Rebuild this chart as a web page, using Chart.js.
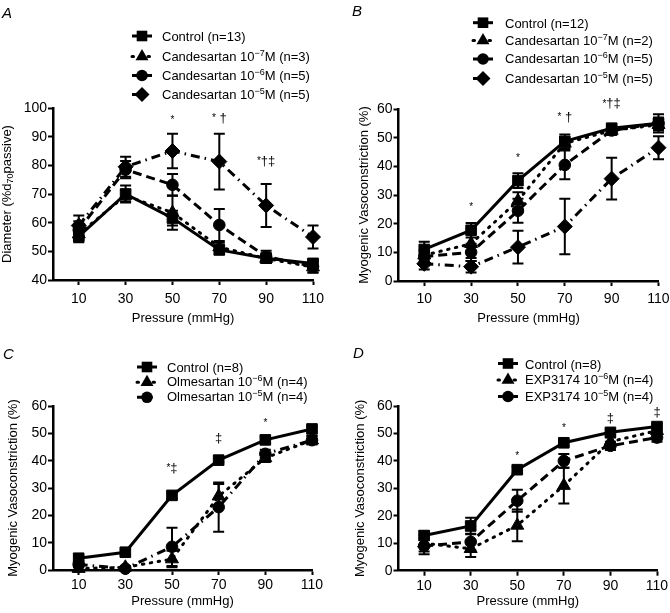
<!DOCTYPE html>
<html>
<head>
<meta charset="utf-8">
<title>Myogenic responses to AT1 receptor blockers</title>
<script src="https://cdn.jsdelivr.net/npm/chart.js@4.4.1/dist/chart.umd.min.js"></script>
<style>
  html, body { margin: 0; padding: 0; background: #fff; }
  #figure { position: relative; width: 670px; height: 613px; overflow: hidden; font-family: Arial, "Liberation Sans", Helvetica, sans-serif; color: #000; }
  #figure canvas { position: absolute; }
  .panel-letter { position: absolute; font-size: 15px; font-style: italic; line-height: 15px; transform: translateY(-50%); }
  .legend-row { position: absolute; font-size: 13px; line-height: 13px; white-space: nowrap; transform: translateY(-50%); }
  .legend-row .sup { position: relative; top: -5px; font-size: 9px; }
</style>
</head>
<body>
<div id="figure">
  <canvas id="chartA" width="335" height="335" style="left:0;top:0"></canvas>
  <canvas id="chartB" width="345" height="335" style="left:335px;top:0"></canvas>
  <canvas id="chartC" width="335" height="278" style="left:0;top:335px"></canvas>
  <canvas id="chartD" width="345" height="278" style="left:335px;top:335px"></canvas>
  <div class="panel-letter" style="left:2px;top:12px">A</div>
  <div class="panel-letter" style="left:352px;top:10px">B</div>
  <div class="panel-letter" style="left:3px;top:353px">C</div>
  <div class="panel-letter" style="left:353px;top:352px">D</div>
</div>
<script>
(function () {
  'use strict';

  // ---- data ----
  const pressure = [10, 30, 50, 70, 90, 110];
  const yTicksDiameter = [40, 50, 60, 70, 80, 90, 100];
  const yTicksMyogenic = [0, 10, 20, 30, 40, 50, 60];

  // A: diameter (% d70 passive)
  const aLabels = ['Control (n=13)', 'Candesartan 10{−7}M (n=3)', 'Candesartan 10{−6}M (n=5)', 'Candesartan 10{−5}M (n=5)'];
  const aControl = [55.2, 70, 61.6, 50.5, 47.6, 45.8];
  const aControlErr = [2, 3, 2.6, 1.5, 1.7, 1.5];
  const aCand7 = [56, 69.5, 63.5, 51.5, 47.5, 44.5];
  const aCand7Err = [2, 2, 6, 1.5, 1.5, 2];
  const aCand6 = [57.5, 78.5, 73.2, 59.2, 48.2, 44.7];
  const aCand6Err = [3, 3, 3.8, 5.6, 2, 2];
  const aCand5 = [59, 79.5, 85, 81.3, 66, 55];
  const aCand5Err = [3.5, 3.5, 6, 9.7, 7.5, 4];
  const aSigText = ['*', '* †', '*†‡'];
  const aSigAt = [50, 70, 90];
  const aSigLevel = [96.5, 96.3, 81.3];

  // B: myogenic vasoconstriction (%)
  const bLabels = ['Control (n=12)', 'Candesartan 10{−7}M (n=2)', 'Candesartan 10{−6}M (n=5)', 'Candesartan 10{−5}M (n=5)'];
  const bControl = [11, 17.7, 35, 48.7, 53.3, 55];
  const bControlErr = [2.7, 2.5, 2.6, 2.4, 1.5, 3.2];
  const bCand7 = [9, 13, 28, 48, 52.5, 54.5];
  const bCand7Err = [2, 5, 3, 2, 1.5, 2];
  const bCand6 = [8.5, 10, 24.5, 40.5, 52.5, 55];
  const bCand6Err = [2, 3, 4.2, 5, 1.5, 2];
  const bCand5 = [6, 5, 11.8, 19, 35.7, 46.5];
  const bCand5Err = [2, 2, 5.7, 9.7, 7.3, 4];
  const bSigText = ['*', '*', '* †', '*†‡'];
  const bSigAt = [30, 50, 70, 90];
  const bSigLevel = [26.5, 43.6, 57.2, 61.8];

  // C: olmesartan
  const cLabels = ['Control (n=8)', 'Olmesartan 10{−6}M (n=4)', 'Olmesartan 10{−5}M (n=4)'];
  const cControl = [4.3, 6.5, 27.3, 40.2, 47.6, 51.6];
  const cControlErr = [1, 1, 1.2, 0.8, 1.2, 1];
  const cOlme6 = [0.5, 1, 4, 27, 41, 47.5];
  const cOlme6Err = [0.5, 0.5, 3, 4.5, 1.5, 1.5];
  const cOlme5 = [2, 0.5, 8.5, 23, 42.5, 47.5];
  const cOlme5Err = [1, 0.5, 7, 9, 1.5, 1.5];
  const cSigText = ['*‡', '‡', '*'];
  const cSigAt = [50, 70, 90];
  const cSigLevel = [37.2, 48.2, 54.3];

  // D: EXP3174
  const dLabels = ['Control (n=8)', 'EXP3174 10{−6}M (n=4)', 'EXP3174 10{−5}M (n=4)'];
  const dControl = [12.8, 16.3, 36.8, 46.6, 50.4, 52.5];
  const dControlErr = [1.5, 3, 1.2, 1, 1, 1];
  const dExp6 = [10, 8, 16.5, 31, 47, 51];
  const dExp6Err = [3, 3, 5.8, 6.5, 1.5, 1.5];
  const dExp5 = [9, 10.5, 25.5, 40, 45.5, 48.5];
  const dExp5Err = [3, 3, 4, 2.5, 1.5, 1.5];
  const dSigText = ['*', '*', '‡', '‡'];
  const dSigAt = [50, 70, 90, 110];
  const dSigLevel = [42.5, 52.7, 55.5, 57.6];

  const yTitleDiameter = ['Diameter (%d', '70', 'passive)'];
  const yTitleMyogenic = 'Myogenic Vasoconstriction (%)';
  const xTitle = 'Pressure (mmHg)';

  // ---- styles ----
  const FONT = 'Arial, "Liberation Sans", Helvetica, sans-serif';
  Chart.defaults.font.family = FONT;
  Chart.defaults.color = '#000';

  const LINES = {
    solid: { dash: [], cap: 'butt' },
    dotted: { dash: [1.5, 6.5], cap: 'round' },
    dashed: { dash: [9, 5], cap: 'butt' },
    dashdot: { dash: [9, 5, 1.5, 5], cap: 'butt' }
  };
  const MARKER_RADIUS = { rect: 7.5, triangle: 7.5, circle: 5.8, rectRot: 7.5 };

  function series(label, values, errors, marker, line) {
    return {
      label: label.replace(/[{}]/g, ''),
      data: pressure.map((p, i) => ({ x: p, y: values[i] })),
      errors: errors,
      borderColor: '#000',
      borderWidth: 3,
      borderDash: LINES[line].dash,
      borderCapStyle: LINES[line].cap,
      pointStyle: marker,
      pointRadius: MARKER_RADIUS[marker],
      pointBackgroundColor: '#000',
      pointBorderColor: '#000',
      pointBorderWidth: 1,
      tension: 0,
      fill: false,
      clip: false
    };
  }

  function drawMarker(ctx, style, r, x, y) {
    ctx.beginPath();
    if (style === 'rect') {
      const s = r * Math.SQRT1_2;
      ctx.rect(x - s, y - s, 2 * s, 2 * s);
    } else if (style === 'rectRot') {
      ctx.moveTo(x, y - r);
      ctx.lineTo(x + r, y);
      ctx.lineTo(x, y + r);
      ctx.lineTo(x - r, y);
      ctx.closePath();
    } else if (style === 'triangle') {
      for (let k = 0; k < 3; k++) {
        const a = k * 2 * Math.PI / 3;
        const px = x + Math.sin(a) * r;
        const py = y - Math.cos(a) * r;
        if (k === 0) ctx.moveTo(px, py); else ctx.lineTo(px, py);
      }
      ctx.closePath();
    } else {
      ctx.arc(x, y, r, 0, Math.PI * 2);
    }
    ctx.fillStyle = '#000';
    ctx.fill();
  }

  // ---- plugins ----
  const errorBars = {
    id: 'errorBars',
    beforeDatasetsDraw(chart) {
      const { ctx, scales: { x, y } } = chart;
      ctx.save();
      ctx.strokeStyle = '#000';
      ctx.lineWidth = 2;
      ctx.setLineDash([]);
      chart.data.datasets.forEach((ds) => {
        (ds.errors || []).forEach((e, i) => {
          const pt = ds.data[i];
          const px = x.getPixelForValue(pt.x);
          const top = y.getPixelForValue(pt.y + e);
          const bot = y.getPixelForValue(pt.y - e);
          ctx.beginPath();
          ctx.moveTo(px, top); ctx.lineTo(px, bot);
          ctx.moveTo(px - 5.5, top); ctx.lineTo(px + 5.5, top);
          ctx.moveTo(px - 5.5, bot); ctx.lineTo(px + 5.5, bot);
          ctx.stroke();
        });
      });
      ctx.restore();
    }
  };

  const legendMarks = {
    id: 'legendMarks',
    afterDraw(chart, args, opts) {
      if (!opts || !opts.ys) return;
      const ctx = chart.ctx;
      chart.data.datasets.forEach((ds, i) => {
        const y0 = opts.ys[i];
        ctx.save();
        ctx.strokeStyle = '#000';
        ctx.lineWidth = 3;
        ctx.setLineDash(ds.borderDash);
        ctx.lineCap = ds.borderCapStyle;
        ctx.beginPath();
        ctx.moveTo(opts.x - 10, y0);
        ctx.lineTo(opts.x + 10, y0);
        ctx.stroke();
        ctx.setLineDash([]);
        drawMarker(ctx, ds.pointStyle, ds.pointRadius, opts.x, y0);
        ctx.restore();
      });
    }
  };

  const sigMarks = {
    id: 'sigMarks',
    afterDraw(chart, args, opts) {
      if (!opts || !opts.text) return;
      const { ctx, scales: { x, y } } = chart;
      ctx.save();
      ctx.fillStyle = '#000';
      ctx.textBaseline = 'middle';
      ctx.textAlign = 'left';
      opts.text.forEach((txt, i) => {
        const cx = x.getPixelForValue(opts.at[i]);
        const cy = y.getPixelForValue(opts.level[i]);
        const starOnly = txt === '*';
        const parts = [...txt].map((ch) => ({
          ch,
          font: ch === '*' ? '10px ' + FONT : '13px ' + FONT,
          dy: ch === '*' ? (starOnly ? 2 : 0) : 0
        }));
        let total = 0;
        parts.forEach((p) => { ctx.font = p.font; p.w = ctx.measureText(p.ch).width; total += p.w; });
        let px = cx - total / 2;
        parts.forEach((p) => {
          ctx.font = p.font;
          ctx.fillText(p.ch, px, cy + p.dy);
          px += p.w;
        });
      });
      ctx.restore();
    }
  };

  const ySubTitle = {
    id: 'ySubTitle',
    afterDraw(chart, args, opts) {
      if (!opts || !opts.parts) return;
      const { ctx, chartArea } = chart;
      const big = '13px ' + FONT, small = '9px ' + FONT;
      ctx.save();
      ctx.fillStyle = '#000';
      ctx.textBaseline = 'middle';
      ctx.textAlign = 'left';
      const fonts = [big, small, big];
      const widths = opts.parts.map((t, i) => { ctx.font = fonts[i]; return ctx.measureText(t).width; });
      const total = widths.reduce((a, b) => a + b, 0);
      ctx.translate(opts.x, (chartArea.top + chartArea.bottom) / 2);
      ctx.rotate(-Math.PI / 2);
      let px = -total / 2;
      opts.parts.forEach((t, i) => {
        ctx.font = fonts[i];
        ctx.fillText(t, px, i === 1 ? 3 : 0);
        px += widths[i];
      });
      ctx.restore();
    }
  };

  function axisCommon() {
    return {
      grid: { display: true, drawOnChartArea: false, drawTicks: true, tickLength: 5, tickWidth: 2, tickColor: '#000' },
      border: { display: true, color: '#000', width: 2.5 }
    };
  }

  function makePanel(canvasId, o) {
    const canvas = document.getElementById(canvasId);
    const area = o.area;
    return new Chart(canvas, {
      type: 'line',
      data: { datasets: o.datasets },
      options: {
        responsive: false,
        animation: false,
        events: [],
        layout: { padding: { left: 0, top: area.top, right: canvas.width - area.right, bottom: 0 } },
        plugins: {
          legend: { display: false },
          tooltip: { enabled: false },
          legendMarks: o.legend,
          sigMarks: o.sig,
          ySubTitle: o.subTitle || {}
        },
        scales: {
          x: Object.assign(axisCommon(), {
            type: 'linear',
            min: -1,
            max: 110,
            afterBuildTicks: (s) => { s.ticks = pressure.map((v) => ({ value: v })); },
            ticks: { color: '#000', font: { size: 14 }, padding: o.xTickPad, autoSkip: false, maxRotation: 0 },
            title: { display: true, text: xTitle, color: '#000', font: { size: 13 }, padding: { top: 0, bottom: o.xTitlePad } },
            afterFit: (s) => {
              s.height = canvas.height - area.bottom;
              s.paddingLeft = 0;
              s.paddingRight = 0;
            }
          }),
          y: Object.assign(axisCommon(), {
            min: o.yTicks[0],
            max: o.yTicks[o.yTicks.length - 1],
            afterBuildTicks: (s) => { s.ticks = o.yTicks.map((v) => ({ value: v })); },
            ticks: { color: '#000', font: { size: 14 }, padding: 1 },
            title: {
              display: !o.subTitle,
              text: yTitleMyogenic,
              color: '#000',
              font: { size: 13 },
              padding: { top: o.yTitlePad, bottom: 0 }
            },
            afterFit: (s) => {
              s.width = area.left;
              s.paddingTop = 0;
              s.paddingBottom = 0;
            }
          })
        }
      },
      plugins: [errorBars, legendMarks, sigMarks, ySubTitle]
    });
  }

  const fig = document.getElementById('figure');
  function buildLegend(labels, left, ys) {
    labels.forEach((t, i) => {
      const div = document.createElement('div');
      div.className = 'legend-row';
      div.style.left = left + 'px';
      div.style.top = ys[i] + 'px';
      div.innerHTML = t.replace(/\{(.+?)\}/, '<span class="sup">$1</span>');
      fig.appendChild(div);
    });
  }

  // ---- panels ----
  makePanel('chartA', {
    area: { left: 53, right: 313, top: 108, bottom: 280 },
    yTicks: yTicksDiameter,
    xTickPad: 5.3, xTitlePad: 8.9, yTitlePad: 0,
    subTitle: { x: 7.5, parts: yTitleDiameter },
    legend: { x: 142, ys: [36, 56.5, 75.5, 94.5] },
    sig: { text: aSigText, at: aSigAt, level: aSigLevel },
    datasets: [
      series(aLabels[0], aControl, aControlErr, 'rect', 'solid'),
      series(aLabels[1], aCand7, aCand7Err, 'triangle', 'dotted'),
      series(aLabels[2], aCand6, aCand6Err, 'circle', 'dashed'),
      series(aLabels[3], aCand5, aCand5Err, 'rectRot', 'dashdot')
    ]
  });
  buildLegend(aLabels, 162, [36, 56.5, 75.5, 94.5]);

  makePanel('chartB', {
    area: { left: 63.5, right: 323.5, top: 109, bottom: 281 },
    yTicks: yTicksMyogenic,
    xTickPad: 4.6, xTitlePad: 8.9, yTitlePad: 21.2,
    legend: { x: 148, ys: [22.7, 40.5, 59, 78.5] },
    sig: { text: bSigText, at: bSigAt, level: bSigLevel },
    datasets: [
      series(bLabels[0], bControl, bControlErr, 'rect', 'solid'),
      series(bLabels[1], bCand7, bCand7Err, 'triangle', 'dotted'),
      series(bLabels[2], bCand6, bCand6Err, 'circle', 'dashed'),
      series(bLabels[3], bCand5, bCand5Err, 'rectRot', 'dashdot')
    ]
  });
  buildLegend(bLabels, 505, [22.7, 40.5, 59, 78.5]);

  makePanel('chartC', {
    area: { left: 53, right: 312, top: 71, bottom: 235 },
    yTicks: yTicksMyogenic,
    xTickPad: 1.9, xTitlePad: 3.5, yTitlePad: 5.5,
    legend: { x: 147, ys: [32, 47.3, 62.3] },
    sig: { text: cSigText, at: cSigAt, level: cSigLevel },
    datasets: [
      series(cLabels[0], cControl, cControlErr, 'rect', 'solid'),
      series(cLabels[1], cOlme6, cOlme6Err, 'triangle', 'dotted'),
      series(cLabels[2], cOlme5, cOlme5Err, 'circle', 'dashdot')
    ]
  });
  buildLegend(cLabels, 167, [367, 382.3, 397.3]);

  makePanel('chartD', {
    area: { left: 63.5, right: 322, top: 71, bottom: 235.7 },
    yTicks: yTicksMyogenic,
    xTickPad: 1.6, xTitlePad: 3.5, yTitlePad: 17.2,
    legend: { x: 173, ys: [28.5, 45, 61.5] },
    sig: { text: dSigText, at: dSigAt, level: dSigLevel },
    datasets: [
      series(dLabels[0], dControl, dControlErr, 'rect', 'solid'),
      series(dLabels[1], dExp6, dExp6Err, 'triangle', 'dotted'),
      series(dLabels[2], dExp5, dExp5Err, 'circle', 'dashed')
    ]
  });
  buildLegend(dLabels, 525, [363.5, 380, 396.5]);
})();
</script>
</body>
</html>
